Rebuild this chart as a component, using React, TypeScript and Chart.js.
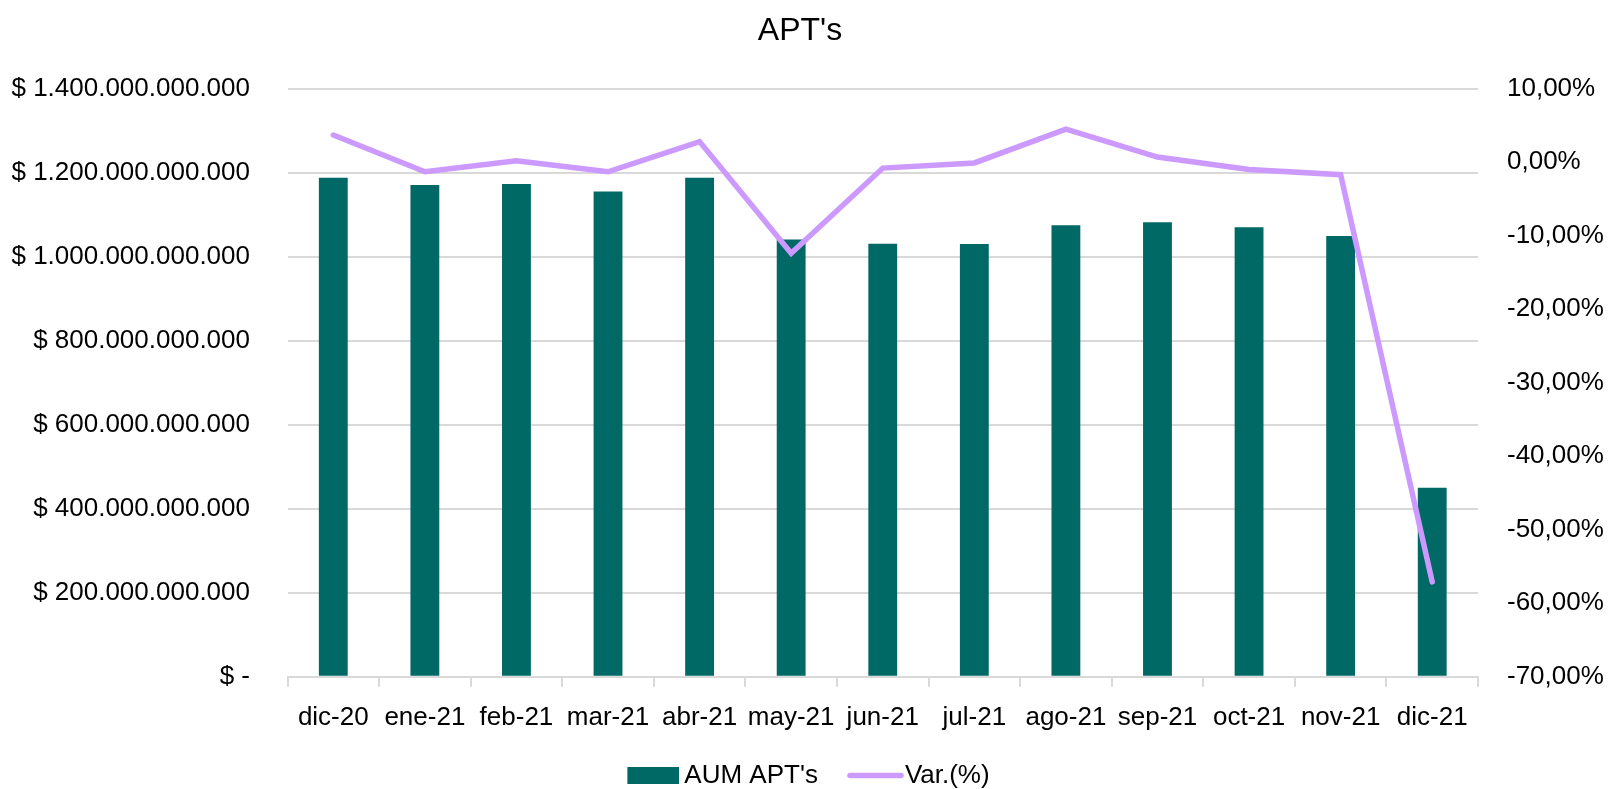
import React, { useEffect, useRef } from "react";
import { Chart, registerables } from "chart.js";

Chart.register(...registerables);

const categories = ["dic-20", "ene-21", "feb-21", "mar-21", "abr-21", "may-21", "jun-21", "jul-21", "ago-21", "sep-21", "oct-21", "nov-21", "dic-21"];
// AUM in billions of pesos
const aumBillions = [1188, 1171, 1173, 1155, 1188, 1041, 1031, 1030, 1075, 1082, 1070, 1049, 450];
// monthly variation in percent
const varPct = [3.7, -1.3, 0.2, -1.3, 2.8, -12.4, -0.8, -0.1, 4.5, 0.7, -1.0, -1.7, -57.1];

const titleText = "APT's";
const barLabel = "AUM APT's";
const lineLabel = "Var.(%)";

const BAR_COLOR = "#006865";
const LINE_COLOR = "#CC99FF";
const GRID_COLOR = "#D9D9D9";
const FONT = "'Liberation Sans', Arial, sans-serif";
const FS = 26;

function formatPesos(v: number): string {
  if (Math.round(v) === 0) return "$ -";
  const s = Math.round(v).toString().replace(/\B(?=(\d{3})+(?!\d))/g, ".");
  return "$ " + s;
}

function formatPct(v: number): string {
  let r = Math.round(v * 100) / 100;
  if (Object.is(r, -0)) r = 0;
  return r.toFixed(2).replace(".", ",") + "%";
}

// legend marker images (transparent margin on the left controls spacing)
function makeBoxMarker(): HTMLCanvasElement {
  const c = document.createElement("canvas");
  c.width = 77;
  c.height = 17;
  const ctx = c.getContext("2d")!;
  ctx.fillStyle = BAR_COLOR;
  ctx.fillRect(25, 0, 52, 17);
  return c;
}

function makeLineMarker(): HTMLCanvasElement {
  const c = document.createElement("canvas");
  c.width = 85;
  c.height = 9;
  const ctx = c.getContext("2d")!;
  ctx.strokeStyle = LINE_COLOR;
  ctx.lineWidth = 5.5;
  ctx.lineCap = "round";
  ctx.beginPath();
  ctx.moveTo(31, 4.5);
  ctx.lineTo(82, 4.5);
  ctx.stroke();
  return c;
}

// let the right axis labels use the space of the right layout padding (avoid clipping)
const widenRightAxis = {
  id: "widenRightAxis",
  afterLayout(chart: any) {
    const s = chart.scales.y1;
    if (s) s.right = chart.width;
  },
};

export default function App() {
  const ref = useRef<HTMLCanvasElement | null>(null);

  useEffect(() => {
    document.body.style.margin = "0";
    const canvas = ref.current;
    if (!canvas) return;
    const boxMarker = makeBoxMarker();
    const lineMarker = makeLineMarker();
    const chart = new Chart(canvas, {
      type: "bar",
      plugins: [widenRightAxis],
      data: {
        labels: categories,
        datasets: [
          {
            type: "bar",
            label: barLabel,
            data: aumBillions.map((v) => v * 1e9),
            backgroundColor: BAR_COLOR,
            borderWidth: 0,
            yAxisID: "y",
            order: 2,
            barPercentage: 0.315,
            categoryPercentage: 1,
          },
          {
            type: "line",
            label: lineLabel,
            data: varPct,
            borderColor: LINE_COLOR,
            backgroundColor: LINE_COLOR,
            borderWidth: 5.5,
            pointRadius: 0,
            pointHoverRadius: 0,
            borderCapStyle: "round",
            tension: 0,
            fill: false,
            yAxisID: "y1",
            order: 1,
          },
        ],
      },
      options: {
        responsive: false,
        animation: false,
        devicePixelRatio: 1,
        layout: { padding: { left: 0, right: 20, top: 0, bottom: -9.5 } },
        plugins: {
          tooltip: { enabled: false },
          title: {
            display: true,
            text: titleText,
            color: "#000",
            font: { family: FONT, size: 32, weight: "normal", lineHeight: 1.2 },
            padding: { top: 12, bottom: 38.3 },
          },
          legend: {
            display: true,
            position: "bottom",
            labels: {
              color: "#000",
              font: { family: FONT, size: FS },
              usePointStyle: true,
              pointStyleWidth: 61,
              boxHeight: 17,
              padding: 13,
              generateLabels: () => [
                {
                  text: barLabel,
                  fillStyle: BAR_COLOR,
                  strokeStyle: BAR_COLOR,
                  lineWidth: 0,
                  pointStyle: boxMarker as any,
                  datasetIndex: 0,
                  hidden: false,
                  fontColor: "#000",
                },
                {
                  text: lineLabel,
                  fillStyle: LINE_COLOR,
                  strokeStyle: LINE_COLOR,
                  lineWidth: 0,
                  pointStyle: lineMarker as any,
                  datasetIndex: 1,
                  hidden: false,
                  fontColor: "#000",
                },
              ],
            },
          },
        },
        scales: {
          x: {
            type: "category",
            offset: true,
            grid: {
              offset: true,
              drawOnChartArea: false,
              drawTicks: true,
              tickLength: 10,
              color: GRID_COLOR,
              lineWidth: 2,
            },
            border: { display: true, color: GRID_COLOR, width: 2 },
            ticks: {
              color: "#000",
              font: { family: FONT, size: FS },
              padding: 16,
              maxRotation: 0,
              autoSkip: false,
            },
            afterFit: (scale: any) => {
              scale.height = 72.8;
            },
          },
          y: {
            type: "linear",
            position: "left",
            min: 0,
            max: 1.4e12,
            grid: { drawTicks: false, color: GRID_COLOR, lineWidth: 2 },
            border: { display: false },
            ticks: {
              stepSize: 2e11,
              color: "#000",
              font: { family: FONT, size: FS },
              padding: 37.5,
              callback: (v: any) => formatPesos(Number(v)),
            },
            afterFit: (scale: any) => {
              scale.width = 287.5;
            },
          },
          y1: {
            type: "linear",
            position: "right",
            min: -70,
            max: 10,
            grid: { display: false, drawTicks: false },
            border: { display: false },
            ticks: {
              stepSize: 10,
              color: "#000",
              font: { family: FONT, size: FS },
              padding: 29,
              callback: (v: any) => formatPct(Number(v)),
            },
            afterFit: (scale: any) => {
              scale.width = 122;
            },
          },
        },
      },
    });
    return () => chart.destroy();
  }, []);

  return (
    <div style={{ width: 1620, height: 789, background: "#fff" }}>
      <canvas ref={ref} width={1620} height={789} style={{ display: "block" }} />
    </div>
  );
}
